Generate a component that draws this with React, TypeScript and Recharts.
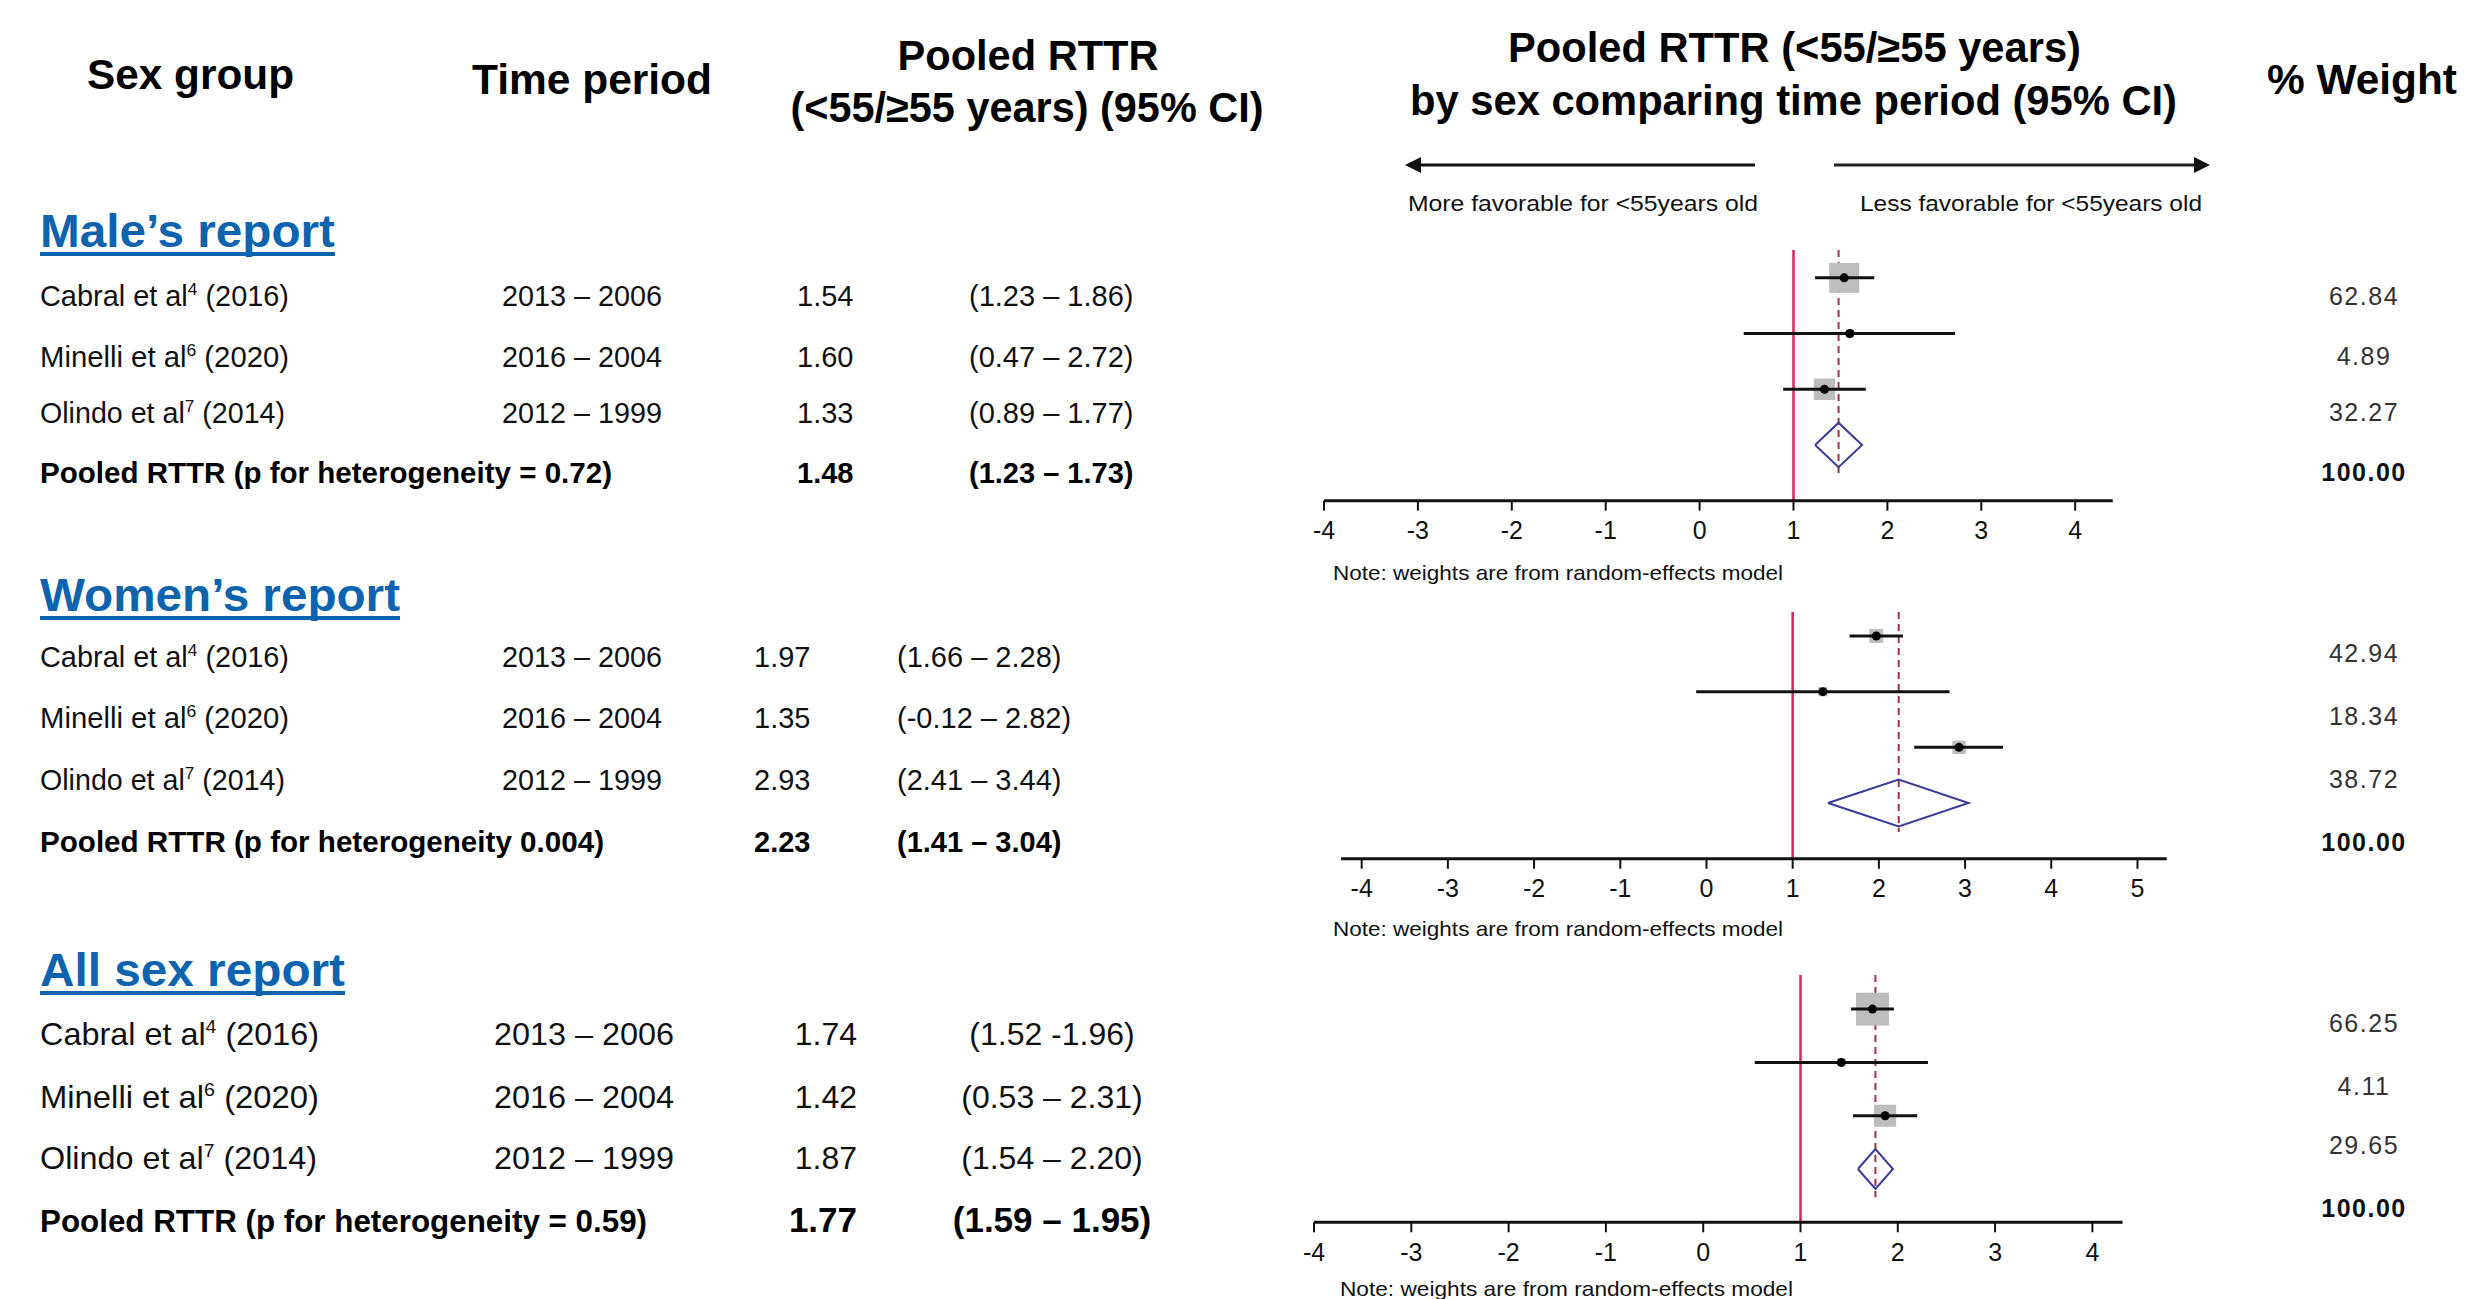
import React from "react";
import { ComposedChart, Scatter, XAxis, YAxis, ReferenceLine } from "recharts";

const FONT = "'Liberation Sans', Arial, sans-serif";
const BLUE = "#0d63ad";

// study labels
const studyNames = ["Cabral", "Minelli", "Olindo"];
const refNums = ["4", "6", "7"];
const studyYears = ["2016", "2020", "2014"];
const timePeriods = ["2013 – 2006", "2016 – 2004", "2012 – 1999"];

// male's report
const maleEst = [1.54, 1.6, 1.33];
const maleLow = [1.23, 0.47, 0.89];
const maleHigh = [1.86, 2.72, 1.77];
const maleWeight = [62.84, 4.89, 32.27];
const malePooled = [1.48, 1.23, 1.73];
const maleHet = "= 0.72";

// women's report
const womenEst = [1.97, 1.35, 2.93];
const womenLow = [1.66, -0.12, 2.41];
const womenHigh = [2.28, 2.82, 3.44];
const womenWeight = [42.94, 18.34, 38.72];
const womenPooled = [2.23, 1.41, 3.04];
const womenHet = "0.004";

// all sex report
const allEst = [1.74, 1.42, 1.87];
const allLow = [1.52, 0.53, 1.54];
const allHigh = [1.96, 2.31, 2.2];
const allWeight = [66.25, 4.11, 29.65];
const allPooled = [1.77, 1.59, 1.95];
const allHet = "= 0.59";

const totalWeight = 100;

const maleTicks = [-4, -3, -2, -1, 0, 1, 2, 3, 4];
const womenTicks = [-4, -3, -2, -1, 0, 1, 2, 3, 4, 5];
const allTicks = [-4, -3, -2, -1, 0, 1, 2, 3, 4];

const NOTE = "Note: weights are from random-effects model";

type Lay = {
  left: number; top: number; ppu: number; xMin: number; xMax: number; ticks: number[];
  yTop: number; rowPx: number; boxK: number; diaH: number; dashEnd: number;
};

const empty = () => <g />;
const PAD = 24;

function Forest({ est, low, high, weight, pooled, lay }: any) {
  const l: Lay = lay;
  const plotW = (l.xMax - l.xMin) * l.ppu;
  const plotH = (5 - l.yTop) * l.rowPx;
  const axisH = 60;
  const boxes = est.map((e: number, i: number) => ({ x: e, y: i + 1, w: weight[i] }));
  const [pe, pl, ph] = pooled;
  const diamond = [
    { x: pl, y: 4 },
    { x: pe, y: 4 - l.diaH },
    { x: ph, y: 4 },
    { x: pe, y: 4 + l.diaH },
    { x: pl, y: 4 },
  ];
  return (
    <div style={{ position: "absolute", left: l.left - PAD, top: l.top }}>
      <ComposedChart width={plotW + 2 * PAD} height={plotH + axisH} margin={{ top: 0, right: PAD, bottom: 0, left: PAD }}>
        <XAxis
          type="number"
          dataKey="x"
          domain={[l.xMin, l.xMax]}
          ticks={l.ticks}
          interval={0}
          allowDataOverflow
          height={axisH}
          axisLine={{ stroke: "#111", strokeWidth: 3 }}
          tickLine={{ stroke: "#111", strokeWidth: 2 }}
          tickSize={10}
          tickMargin={11}
          tick={{ fontSize: 25, fill: "#111", fontFamily: FONT }}
        />
        <YAxis type="number" dataKey="y" domain={[l.yTop, 5]} reversed hide allowDataOverflow />
        <ReferenceLine x={1} stroke="#d9265a" strokeWidth={2.5} />
        <ReferenceLine
          segment={[{ x: pe, y: l.yTop }, { x: pe, y: l.dashEnd }]}
          stroke="#a2303e"
          strokeWidth={2}
          strokeDasharray="7 5"
        />
        <Scatter
          data={boxes}
          isAnimationActive={false}
          shape={(p: any) => {
            const s = l.boxK * Math.sqrt(p.payload.w);
            return <rect x={p.cx - s / 2} y={p.cy - s / 2} width={s} height={s} fill="#bdbdbd" />;
          }}
        />
        {est.map((_: number, i: number) => (
          <Scatter
            key={i}
            data={[{ x: low[i], y: i + 1 }, { x: high[i], y: i + 1 }]}
            line={{ stroke: "#111", strokeWidth: 3 }}
            shape={empty}
            isAnimationActive={false}
          />
        ))}
        <Scatter
          data={boxes}
          isAnimationActive={false}
          shape={(p: any) => <circle cx={p.cx} cy={p.cy} r={4.5} fill="#000" />}
        />
        <Scatter
          data={diamond}
          line={{ stroke: "#3b3b9c", strokeWidth: 2, fill: "none" }}
          shape={empty}
          isAnimationActive={false}
        />
      </ComposedChart>
    </div>
  );
}

function T({ x, y, w, size, bold, fill = "#111", anchor = "start", ls, children }: any) {
  return (
    <text
      x={x}
      y={y}
      fontSize={size}
      fontWeight={bold ? "bold" : "normal"}
      fill={fill}
      textAnchor={anchor}
      fontFamily={FONT}
      textLength={w}
      lengthAdjust={w ? "spacingAndGlyphs" : undefined}
      style={ls ? { letterSpacing: ls } : undefined}
    >
      {children}
    </text>
  );
}

const ci = (lo: number, hi: number, sep = " – ") => `(${lo.toFixed(2)}${sep}${hi.toFixed(2)})`;

const sections = [
  {
    title: "Male’s report", headY: 247, headW: 295,
    est: maleEst, low: maleLow, high: maleHigh, weight: maleWeight, pooled: malePooled, het: maleHet,
    rows: [306, 367, 423, 483], wRows: [305, 365, 421, 481], fs: 29, labelW: [249, 249, 245],
    periodX: 502, periodW: 160, estX: 797, estAnchor: "start", ciX: 969, ciAnchor: "start",
    pooledW: 572, pFs: 29, seps: [" – ", " – ", " – "],
  },
  {
    title: "Women’s report", headY: 611, headW: 360,
    est: womenEst, low: womenLow, high: womenHigh, weight: womenWeight, pooled: womenPooled, het: womenHet,
    rows: [667, 728, 790, 852], wRows: [662, 725, 788, 851], fs: 29, labelW: [249, 249, 245],
    periodX: 502, periodW: 160, estX: 754, estAnchor: "start", ciX: 897, ciAnchor: "start",
    pooledW: 564, pFs: 29, seps: [" – ", " – ", " – "],
  },
  {
    title: "All sex report", headY: 986, headW: 305,
    est: allEst, low: allLow, high: allHigh, weight: allWeight, pooled: allPooled, het: allHet,
    rows: [1045, 1108, 1169, 1232], wRows: [1032, 1095, 1154, 1217], fs: 32, labelW: [279, 279, 277],
    periodX: 494, periodW: 180, estX: 857, estAnchor: "end", ciX: 1052, ciAnchor: "middle",
    pooledW: 607, pFs: 35, seps: [" -", " – ", " – "],
  },
];

const layouts: Lay[] = [
  { left: 1324, top: 250, ppu: 93.9, xMin: -4, xMax: 4.4, ticks: maleTicks, yTop: 0.5, rowPx: 55.7, boxK: 3.78, diaH: 0.4, dashEnd: 4.55 },
  { left: 1341, top: 612, ppu: 86.2, xMin: -4.24, xMax: 5.34, ticks: womenTicks, yTop: 0.57, rowPx: 55.7, boxK: 2.14, diaH: 0.42, dashEnd: 4.52 },
  { left: 1314, top: 975, ppu: 97.3, xMin: -4, xMax: 4.31, ticks: allTicks, yTop: 0.36, rowPx: 53.3, boxK: 4.05, diaH: 0.375, dashEnd: 4.53 },
];

const notes = [
  { x: 1333, y: 580, w: 450 },
  { x: 1333, y: 936, w: 450 },
  { x: 1340, y: 1296, w: 453 },
];

export default function App() {
  return (
    <div style={{ position: "absolute", left: 0, top: 0, width: 2467, height: 1299, background: "#fff", overflow: "hidden" }}>
      <svg width={2467} height={1299} style={{ position: "absolute", left: 0, top: 0 }}>
        {/* column headers */}
        <T x={87} y={89} w={207} size={42} bold fill="#000">Sex group</T>
        <T x={472} y={94} w={240} size={42} bold fill="#000">Time period</T>
        <T x={1028} y={70} w={261} size={42} bold fill="#000" anchor="middle">Pooled RTTR</T>
        <T x={1027} y={122} w={473} size={42} bold fill="#000" anchor="middle">(&lt;55/≥55 years) (95% CI)</T>
        <T x={1508} y={62} w={573} size={42} bold fill="#000">Pooled RTTR (&lt;55/≥55 years)</T>
        <T x={1410} y={115} w={767} size={42} bold fill="#000">by sex comparing time period (95% CI)</T>
        <T x={2267} y={94} w={190} size={42} bold fill="#000">% Weight</T>

        {/* direction arrows */}
        <line x1={1755} y1={165} x2={1418} y2={165} stroke="#111" strokeWidth={3} />
        <polygon points="1405,165 1421,157 1421,173" fill="#111" />
        <line x1={1834} y1={165} x2={2196} y2={165} stroke="#222" strokeWidth={3} />
        <polygon points="2210,165 2194,157 2194,173" fill="#111" />
        <T x={1408} y={211} w={350} size={22}>More favorable for &lt;55years old</T>
        <T x={1860} y={211} w={342} size={22}>Less favorable for &lt;55years old</T>

        {sections.map((s, k) => (
          <g key={k}>
            <T x={40} y={s.headY} w={s.headW} size={46} bold fill={BLUE}>{s.title}</T>
            <line x1={40} x2={40 + s.headW} y1={s.headY + 7} y2={s.headY + 7} stroke={BLUE} strokeWidth={4} />
            {s.est.map((e, i) => (
              <g key={i}>
                <T x={40} y={s.rows[i]} w={s.labelW[i]} size={s.fs}>
                  {`${studyNames[i]} et al`}
                  <tspan dy={-s.fs * 0.38} fontSize={s.fs * 0.6}>{refNums[i]}</tspan>
                  <tspan dy={s.fs * 0.38}>{` (${studyYears[i]})`}</tspan>
                </T>
                <T x={s.periodX} y={s.rows[i]} w={s.periodW} size={s.fs}>{timePeriods[i]}</T>
                <T x={s.estX} y={s.rows[i]} size={s.fs} anchor={s.estAnchor}>{e.toFixed(2)}</T>
                <T x={s.ciX} y={s.rows[i]} size={s.fs} anchor={s.ciAnchor}>{ci(s.low[i], s.high[i], s.seps[i])}</T>
                <T x={2364} y={s.wRows[i]} size={25} fill="#333" anchor="middle" ls={1.5}>{s.weight[i].toFixed(2)}</T>
              </g>
            ))}
            <T x={40} y={s.rows[3]} w={s.pooledW} size={s.fs} bold fill="#000">{`Pooled RTTR (p for heterogeneity ${s.het})`}</T>
            <T x={s.estX} y={s.rows[3]} size={s.pFs} bold fill="#000" anchor={s.estAnchor}>{s.pooled[0].toFixed(2)}</T>
            <T x={s.ciX} y={s.rows[3]} size={s.pFs} bold fill="#000" anchor={s.ciAnchor}>{ci(s.pooled[1], s.pooled[2])}</T>
            <T x={2364} y={s.wRows[3]} size={25} bold fill="#111" anchor="middle" ls={1.5}>{totalWeight.toFixed(2)}</T>
            <T x={notes[k].x} y={notes[k].y} w={notes[k].w} size={21}>{NOTE}</T>
          </g>
        ))}
      </svg>

      {sections.map((s, k) => (
        <Forest key={k} est={s.est} low={s.low} high={s.high} weight={s.weight} pooled={s.pooled} lay={layouts[k]} />
      ))}
    </div>
  );
}
